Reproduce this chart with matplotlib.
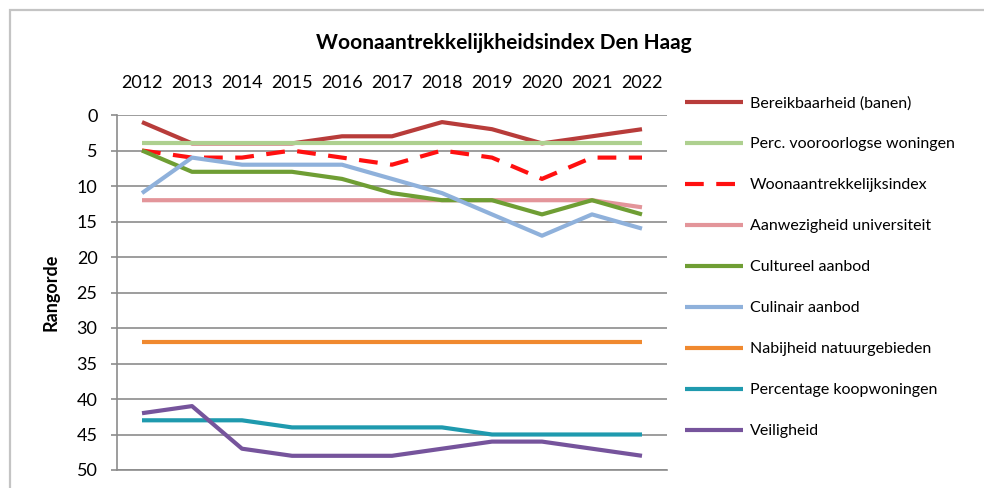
import matplotlib
matplotlib.use("Agg")
import matplotlib.pyplot as plt
from matplotlib.patches import Rectangle

plt.rcParams['font.family'] = ['Lato', 'DejaVu Sans']

years = [2012, 2013, 2014, 2015, 2016, 2017, 2018, 2019, 2020, 2021, 2022]

bereikbaarheid = [1, 4, 4, 4, 3, 3, 1, 2, 4, 3, 2]
vooroorlogse = [4, 4, 4, 4, 4, 4, 4, 4, 4, 4, 4]
index_totaal = [5, 6, 6, 5, 6, 7, 5, 6, 9, 6, 6]
universiteit = [12, 12, 12, 12, 12, 12, 12, 12, 12, 12, 13]
cultureel = [5, 8, 8, 8, 9, 11, 12, 12, 14, 12, 14]
culinair = [11, 6, 7, 7, 7, 9, 11, 14, 17, 14, 16]
natuur = [32, 32, 32, 32, 32, 32, 32, 32, 32, 32, 32]
koopwoningen = [43, 43, 43, 44, 44, 44, 44, 45, 45, 45, 45]
veiligheid = [42, 41, 47, 48, 48, 48, 47, 46, 46, 47, 48]

series = [
    ("Bereikbaarheid (banen)", bereikbaarheid, "#b83c3a", "-"),
    ("Perc. vooroorlogse woningen", vooroorlogse, "#aed08f", "-"),
    ("Woonaantrekkelijksindex", index_totaal, "#ff1010", (0, (4.5, 3))),
    ("Aanwezigheid universiteit", universiteit, "#e3959a", "-"),
    ("Cultureel aanbod", cultureel, "#6f9e34", "-"),
    ("Culinair aanbod", culinair, "#8fb1db", "-"),
    ("Nabijheid natuurgebieden", natuur, "#f0892f", "-"),
    ("Percentage koopwoningen", koopwoningen, "#1f9aae", "-"),
    ("Veiligheid", veiligheid, "#76549c", "-"),
]

fig = plt.figure(figsize=(9.84, 4.88), dpi=100)
W, H = 984, 488

# outer frame of the original picture
fig.patches.append(Rectangle((10 / W, -0.1), 1.2, 1 - 10 / H + 0.1, transform=fig.transFigure,
                             fill=False, edgecolor="#c4c4c4", linewidth=1.6))

ax = fig.add_axes([117 / W, (H - 470) / H, 550 / W, 355 / H])

for label, vals, color, ls in series:
    ax.plot(years, vals, color=color, linestyle=ls, linewidth=3.0, label=label,
            solid_capstyle="butt", dash_capstyle="butt")

ax.set_xlim(2011.5, 2022.5)
ax.set_ylim(50, 0)
ax.set_yticks(range(0, 51, 5))
ax.set_xticks(years)
ax.xaxis.tick_top()
ax.tick_params(axis="x", length=0, pad=17, labelsize=13)
ax.tick_params(axis="y", length=4, width=1.2, color="#8c8c8c", pad=10, labelsize=13)
ax.yaxis.grid(True, color="#8c8c8c", linewidth=1.2)
ax.set_axisbelow(True)
for side in ["top", "right"]:
    ax.spines[side].set_visible(False)
for side in ["left", "bottom"]:
    ax.spines[side].set_color("#8c8c8c")
    ax.spines[side].set_linewidth(1.2)

ax.set_ylabel("Rangorde", fontsize=13, fontweight="bold", labelpad=12)

fig.text(504 / W, 1 - 43 / H, "Woonaantrekkelijkheidsindex Den Haag", ha="center", va="center",
         fontsize=15, fontweight="bold")

fig.legend(loc="upper left", bbox_to_anchor=(685 / W, 1 - 96 / H), frameon=False,
           fontsize=11.5, handlelength=3.6, handletextpad=0.45, labelspacing=1.68,
           borderpad=0, borderaxespad=0)

fig.savefig("out.png", dpi=100)
